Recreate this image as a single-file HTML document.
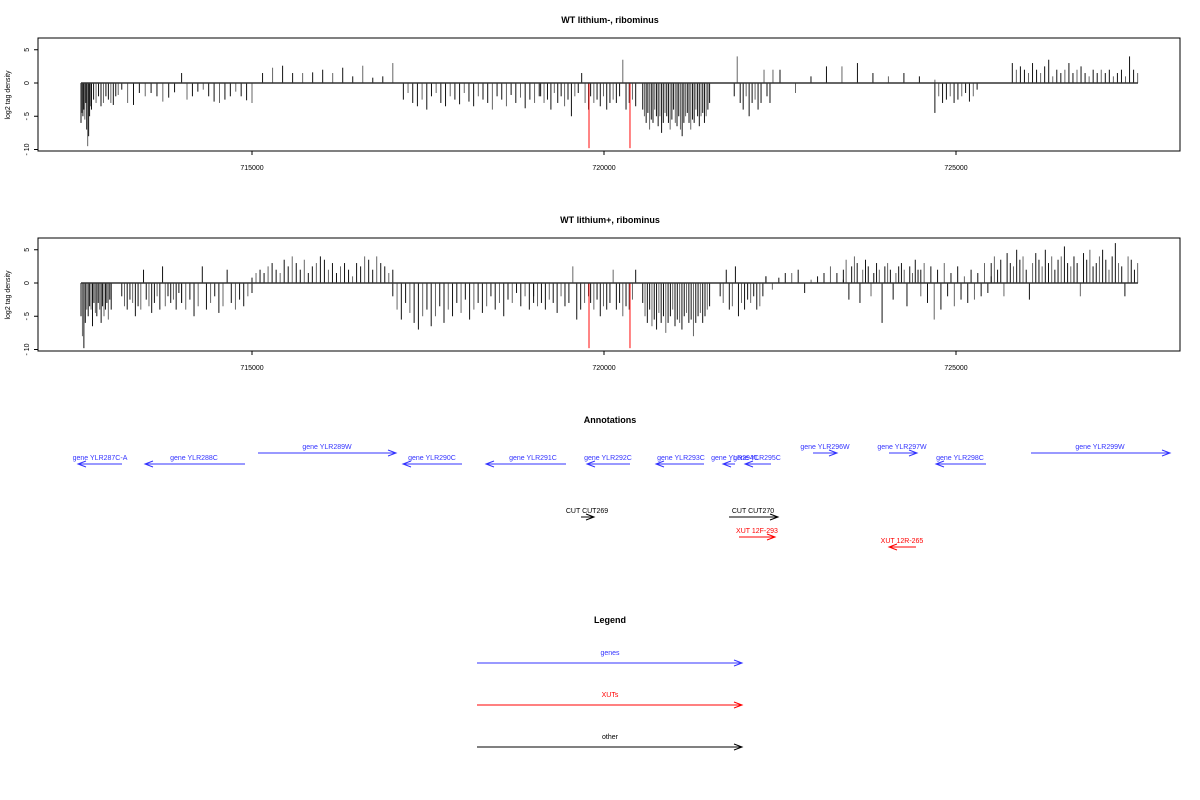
<!DOCTYPE html>
<html><head><meta charset="utf-8"><style>
html,body{margin:0;padding:0;background:#fff;}
svg{display:block;font-family:"Liberation Sans",sans-serif;}
</style></head><body>
<svg id="fig" width="1200" height="800" viewBox="0 0 1200 800" xmlns="http://www.w3.org/2000/svg">
<text x="610" y="23" font-size="9" font-weight="bold" text-anchor="middle">WT lithium-, ribominus</text>
<text x="610" y="223" font-size="9" font-weight="bold" text-anchor="middle">WT lithium+, ribominus</text>
<text x="610" y="423" font-size="9" font-weight="bold" text-anchor="middle">Annotations</text>
<text x="610" y="623" font-size="9" font-weight="bold" text-anchor="middle">Legend</text>
<g id="p1"></g>
<g id="p2"></g>
<g id="ann"></g>
<g id="leg"></g>
</svg>
<script>
// Region data: [start bp, end bp] with hand-read log2 densities spread across each region
const p1Starts=[712571,712750,713150,714000,715150,717150,719100,719810,720550,721850,722500,724700,725800];
const p1Ends=[712720,713100,713900,715000,717000,719080,719780,720450,721500,722400,724700,725300,727580];
const p1Vals=[
[-6,-4.5,-5,-4,-5.5,-3,-7,-9.5,-8,-5,-3.5,-4],
[-2.5,-3,-2,-3.5,-3,-2,-2.5,-3,-3.3,-2,-1.8],
[-1,-3,-3.3,-1.5,-2,-1.5,-2,-2.8,-2.2,-1.4],
[1.5,-2.5,-2,-1.3,-1,-2,-2.8,-3,-2.5,-2,-1.3,-2,-2.6,-3],
[1.5,2.3,2.6,1.5,1.5,1.6,2,1.5,2.3,1,2.6,0.8,1,3],
[-2.5,-1.5,-3,-3.5,-2.5,-4,-2,-1.5,-3,-3.5,-2,-2.5,-3.2,-1.5,-2.8,-3.5,-2,-2.5,-3,-4,-2,-2.5,-3.5,-1.8,-3,-2.2,-3.8,-2.5,-3,-2],
[-2,-3,-2.5,-4,-1.5,-3,-2,-3.5,-2.5,-5,-2,-1.5,1.5,-3,-4],
[-2,-3,-2.5,-3.5,-2,-4,-3,-2.5,-3,-2,3.5,-4,-3,-2.5,-3.5],
[-4,-5,-6,-4.5,-7,-5.5,-6,-4,-5,-6.5,-5,-7.5,-6,-4.5,-5,-6,-7,-5.5,-4,-6,-6.5,-5,-7,-8,-6,-5,-4.5,-6,-7,-5.5,-6,-4,-5,-6.5,-5,-4.5,-6,-5,-4,-3],
[-2,4,-3,-4,-2,-5,-3,-2.5,-4,-3,2,-2,-3,2],
[2,-1.5,1,2.5,2.5,3,1.5,1,1.5,1,0.5],
[-4.5,-2,-3,-2.5,-2,-3,-2.5,-2,-1.5,-2.8,-2,-1],
[3,2,2.5,2,1.5,3,2,1.5,2.5,3.5,1,2,1.5,2,3,1.5,2,2.5,1.5,1,2,1.5,2,1.5,2,1,1.5,2,1,4,2,1.5]
];
const p2Starts=[712571,713150,714000,715000,717000,719000,719810,720550,721650,722300,723400,724500,725500];
const p2Ends=[713000,714000,715000,717000,719000,719780,720450,721500,722300,723400,724500,725500,727580];
const p2Vals=[
[-5,-8,-9.8,-6,-4,-5,-3.5,-4,-6.5,-3,-4.5,-5,-3,-4,-6,-3.5,-5,-4,-3,-5.5,-2.5,-4],
[-2,-3.5,-4,-2.5,-3,-5,-3.5,-4,2,-2.5,-3.5,-4.5,-3,-2,-4,2.5,-3.5,-2,-3,-2.5,-4,-1.5,-3],
[-3,-4,-2.5,-5,-3.5,2.5,-4,-3,-2,-4.5,-3.5,2,-3,-4,-2.5,-3.5,-2,-1.5],
[0.8,1.5,2,1.5,2.5,3,2,1.5,3.5,2.5,4,3,2,3.5,1.5,2.5,3,4,3.5,2,3,1.5,2.5,3,2,1,3,2.5,4,3.5,2,4,3,2.5,1.5,2],
[-2,-4,-5.5,-3,-4.5,-6,-7,-5,-4,-6.5,-5,-3.5,-6,-4,-5,-3,-4.5,-2.5,-5.5,-4,-3,-4.5,-3.5,-2,-4,-3,-5,-2.5,-3,-1.5,-3.5,-2,-4,-3],
[-2,-3.5,-3,-4,-2.5,-3,-4.5,-2,-3.5,-3,2.5,-5.5,-4,-3,-2],
[-3,-4,-2.5,-5,-3.5,-4,-3,2,-4,-3,-5,-3.5,-4,-2.5,2],
[-3,-5,-6,-4,-6.5,-5.5,-7,-4.5,-6,-5,-7.5,-6,-5,-4,-6.5,-5.5,-6,-7,-5,-4.5,-6,-5.5,-8,-6,-5,-4.5,-6,-5,-4,-3.5],
[-2,-3,2,-4,-3.5,2.5,-5,-3,-4,-2.5,-3,-2,-4,-3.5,-2,1],
[1,-1,0.8,1.5,1.5,2,-1.5,0.5,1,1.5,2.5,1.5,0.5],
[2,3.5,-2.5,2.5,4,3,-3,2,3.5,2.5,-2,1.5,3,2,-6,2.5,3,2,-2.5,1.5,2.5,3,2,-3.5,2.5,1.5,3.5,2,-2],
[2,3,-3,2.5,-5.5,2,-4,3,-2,1.5,-3.5,2.5,-2.5,1,-3,2,-2.5,1.5,-2,3,-1.5,1],
[3,4,2,3.5,-2,4.5,3,2.5,5,3.5,4,2,-2.5,3,4.5,3.5,2.5,5,3,4,2,3.5,4,5.5,3,2.5,4,3,-2,4.5,3.5,5,2.5,3,4,5,3.5,2,4,6,3,2.5,-2,4,3.5,2,3]
];
const redPos=[719787,720369];
const redVals=[-9.8,-9.8];
const xTicks=[715000,720000,725000];
const yTicks=[5,0,-5,-10];
const NS="http://www.w3.org/2000/svg";
function xs(bp){return 252+(bp-715000)*0.0704;}
function mk(tag,attrs,parent){const e=document.createElementNS(NS,tag);for(const k in attrs)e.setAttribute(k,attrs[k]);parent.appendChild(e);return e;}
function panel(g,off,starts,ends,vals){
  const ys=v=>off+83-v*6.65;
  const box=mk('rect',{x:38,y:off+38,width:1142,height:113,fill:'none',stroke:'#000','stroke-width':1},g);
  
  
  starts.forEach((s,r)=>{const v=vals[r];const n=v.length;
    v.forEach((val,i)=>{const bp=n>1?s+(ends[r]-s)*i/(n-1):s;
      const l=mk('line',{x1:xs(bp),x2:xs(bp),y1:ys(0),y2:ys(val),stroke:(i%3==1?'#666':'#111'),'stroke-width':1},g);
      
      
    });});
  redPos.forEach((p,i)=>{const l=mk('line',{x1:xs(p),x2:xs(p),y1:ys(0),y2:ys(redVals[i]),stroke:'#f33','stroke-width':1.2},g);
    
    });
  const base=mk('line',{x1:xs(712571),x2:xs(727585),y1:ys(0),y2:ys(0),stroke:'#333','stroke-width':1.5},g);
  
  
  yTicks.forEach(t=>{mk('line',{x1:34,x2:38,y1:ys(t),y2:ys(t),stroke:'#000'},g);
    const tx=mk('text',{x:0,y:0,'font-size':7,'text-anchor':'middle',transform:`translate(${t<0?29:29},${ys(t)}) rotate(-90)`},g);tx.textContent=t<0?('- '+(-t)):String(t);
    
    });
  const yt=mk('text',{'font-size':7,'text-anchor':'middle',transform:`translate(10,${off+95}) rotate(-90)`},g);yt.textContent='log2 tag density';
  
  
  xTicks.forEach(t=>{mk('line',{x1:xs(t),x2:xs(t),y1:off+151,y2:off+155,stroke:'#000'},g);
    const tx=mk('text',{x:xs(t),y:off+170,'font-size':7,'text-anchor':'middle'},g);tx.textContent=String(t);
    
    });
}
panel(document.getElementById('p1'),0,p1Starts,p1Ends,p1Vals);
panel(document.getElementById('p2'),200,p2Starts,p2Ends,p2Vals);
function arrow(g,x1,x2,y,col,name){
  const l=mk('line',{x1:x1,x2:x2,y1:y,y2:y,stroke:col,'stroke-width':1},g);
  const d=x2>x1?-1:1;
  mk('polyline',{points:`${x2+d*8},${y-3} ${x2},${y} ${x2+d*8},${y+3}`,fill:'none',stroke:col,'stroke-width':1},g);
  
  
}
function label(g,x,y,txt,col,name){const t=mk('text',{x:x,y:y,'font-size':7,'text-anchor':'middle',fill:col},g);t.textContent=txt;
  
  }
const ann=document.getElementById('ann');
const feats=[
['gene YLR287C-A',100,122,78,464,'#33f'],['gene YLR288C',194,245,145,464,'#33f'],['gene YLR289W',327,258,396,453,'#33f'],
['gene YLR290C',432,462,403,464,'#33f'],['gene YLR291C',533,566,486,464,'#33f'],['gene YLR292C',608,630,587,464,'#33f'],
['gene YLR293C',681,704,656,464,'#33f'],['gene YLR294C',735,735,723,464,'#33f'],['gene YLR295C',757,771,745,464,'#33f'],
['gene YLR296W',825,813,837,453,'#33f'],['gene YLR297W',902,889,917,453,'#33f'],['gene YLR298C',960,986,936,464,'#33f'],
['gene YLR299W',1100,1031,1170,453,'#33f'],['CUT CUT269',587,581,594,517,'#000'],['CUT CUT270',753,729,778,517,'#000'],
['XUT 12F-293',757,739,775,537,'#f00'],['XUT 12R-265',902,916,889,547,'#f00']];
feats.forEach(f=>{arrow(ann,f[2],f[3],f[4],f[5],'feature-arrow');label(ann,f[1],f[4]-4,f[0],f[5],'feature-label');});
const leg=document.getElementById('leg');
[['genes','#33f',663],['XUTs','#f00',705],['other','#000',747]].forEach(e=>{arrow(leg,477,742,e[2],e[1],'legend-entry');label(leg,610,e[2]-8,e[0],e[1],'legend-label');});
</script>
</body></html>
